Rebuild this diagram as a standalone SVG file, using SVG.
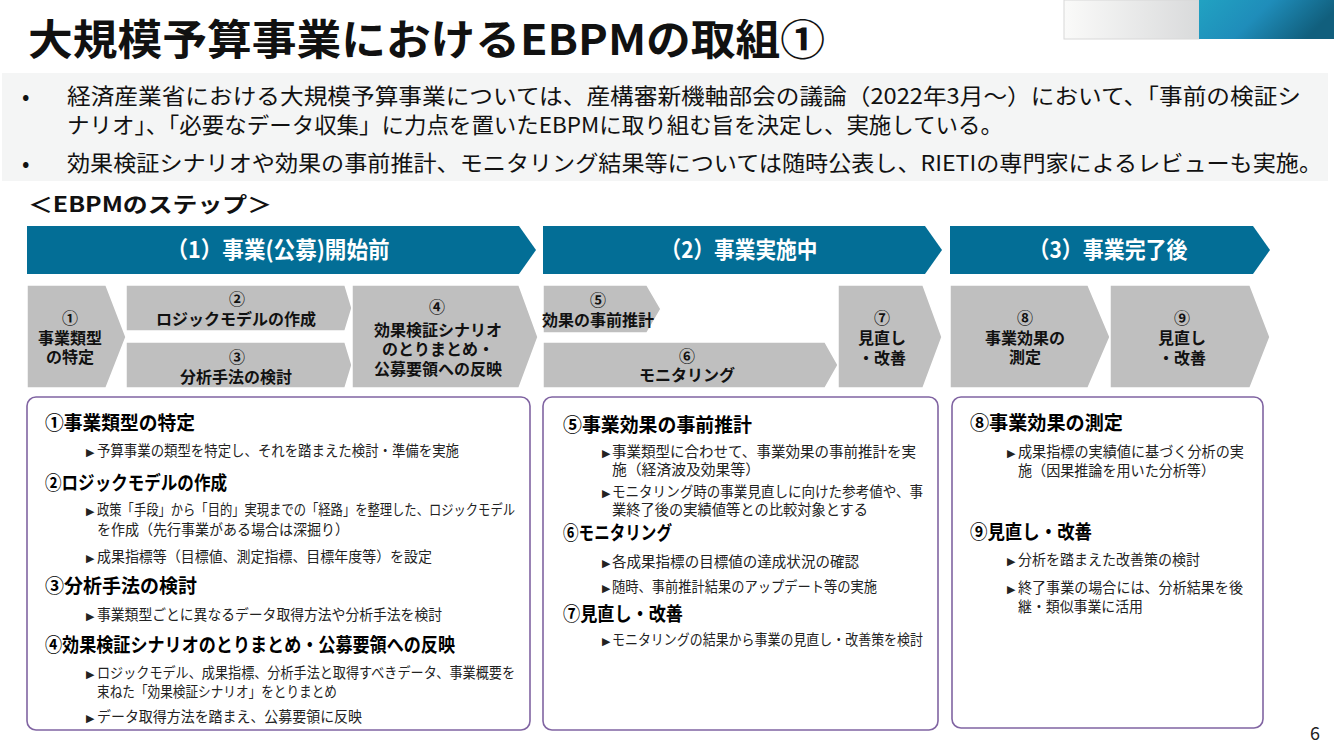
<svg xmlns="http://www.w3.org/2000/svg" width="1334" height="750" viewBox="0 0 1334 750">
<defs>
<linearGradient id="gGray" x1="0" y1="0" x2="1" y2="0">
<stop offset="0" stop-color="#FAFAF9"/><stop offset="1" stop-color="#D9DADB"/>
</linearGradient>
<linearGradient id="gBlue" x1="0" y1="0" x2="1" y2="0.3">
<stop offset="0" stop-color="#21A2C2"/><stop offset="0.5" stop-color="#1F8DBA"/><stop offset="1" stop-color="#115F7D"/>
</linearGradient>
<style>
text{font-family:'Noto Sans CJK JP','Noto Sans',sans-serif;}
.hdr{fill:#036E96;}
.stp{fill:#BFBFBF;stroke:#FFFFFF;stroke-width:1.5;}
.box{fill:#FFFFFF;stroke:#8064A2;stroke-width:1.6;}
.ht{fill:#FFFFFF;font-size:23px;font-weight:700;text-anchor:middle;}
.st{fill:#111111;font-size:16px;font-weight:700;text-anchor:middle;}
.h{fill:#000000;font-size:19px;font-weight:700;}
.b{fill:#222222;font-size:14.5px;}
.tri{fill:#222222;font-size:11px;font-family:'DejaVu Sans',sans-serif;}
.bul{fill:#111111;font-size:22px;}
</style>
</defs>

<g id="topbar">
<rect x="1064" y="0" width="135" height="39" fill="url(#gGray)" stroke="#D8D8D8" stroke-width="1"/>
<rect x="1199" y="0" width="135" height="39" fill="url(#gBlue)"/>
</g>

<g id="title">
<text x="28" y="55" font-size="42" font-weight="700" fill="#111111" textLength="797" lengthAdjust="spacingAndGlyphs">大規模予算事業におけるEBPMの取組①</text>
</g>

<g id="summary">
<rect x="2" y="73" width="1326" height="108" fill="#F4F5F5"/>
<text class="bul" x="22" y="104">•</text>
<text class="bul"><tspan x="67" y="104" textLength="1234" lengthAdjust="spacingAndGlyphs">経済産業省における大規模予算事業については、産構審新機軸部会の議論（2022年3月～）において、「事前の検証シ</tspan><tspan x="67" y="133" textLength="936" lengthAdjust="spacingAndGlyphs">ナリオ」、「必要なデータ収集」に力点を置いたEBPMに取り組む旨を決定し、実施している。</tspan></text>
<text class="bul" x="22" y="171">•</text>
<text class="bul" x="67" y="171" textLength="1255" lengthAdjust="spacingAndGlyphs">効果検証シナリオや効果の事前推計、モニタリング結果等については随時公表し、RIETIの専門家によるレビューも実施。</text>
</g>

<g id="steps-label">
<text x="28" y="212" font-size="21" font-weight="700" fill="#111111" textLength="244" lengthAdjust="spacingAndGlyphs">＜EBPMのステップ＞</text>
</g>

<g id="phase1">
<polygon class="hdr" points="27,226 519,226 536,250 519,274 27,274"/>
<text class="ht" x="278" y="258" textLength="223" lengthAdjust="spacingAndGlyphs">（1）事業(公募)開始前</text>
</g>
<g id="phase2">
<polygon class="hdr" points="543,226 925,226 942,250 925,274 543,274"/>
<text class="ht" x="739" y="258" textLength="157" lengthAdjust="spacingAndGlyphs">（2）事業実施中</text>
</g>
<g id="phase3">
<polygon class="hdr" points="950,226 1253,226 1270,250 1253,274 950,274"/>
<text class="ht" x="1108" y="258" textLength="159" lengthAdjust="spacingAndGlyphs">（3）事業完了後</text>
</g>

<g id="step1">
<polygon class="stp" points="27,285 106,285 126,337 106,388 27,388"/>
<text class="st"><tspan x="70" y="324">①</tspan><tspan x="70" y="344">事業類型</tspan><tspan x="70" y="363">の特定</tspan></text>
</g>
<g id="step2">
<polygon class="stp" points="126,285 345,285 352,308 345,331 126,331"/>
<text class="st"><tspan x="237" y="305">②</tspan><tspan x="236" y="325">ロジックモデルの作成</tspan></text>
</g>
<g id="step3">
<polygon class="stp" points="126,342 345,342 352,365 345,388 126,388"/>
<text class="st"><tspan x="237" y="363">③</tspan><tspan x="236" y="383">分析手法の検討</tspan></text>
</g>
<g id="step4">
<polygon class="stp" points="352,285 519,285 538,337 519,388 352,388"/>
<text class="st"><tspan x="437" y="313">④</tspan><tspan x="438" y="336">効果検証シナリオ</tspan><tspan x="438" y="355">のとりまとめ・</tspan><tspan x="438" y="375">公募要領への反映</tspan></text>
</g>
<g id="step5">
<polygon class="stp" points="543,285 647,285 661,309 647,333 543,333"/>
<text class="st"><tspan x="598" y="306">⑤</tspan><tspan x="598" y="326">効果の事前推計</tspan></text>
</g>
<g id="step6">
<polygon class="stp" points="543,342 825,342 838,365 825,388 543,388"/>
<text class="st"><tspan x="687" y="362">⑥</tspan><tspan x="687" y="381">モニタリング</tspan></text>
</g>
<g id="step7">
<polygon class="stp" points="838,285 923,285 942,337 923,388 838,388"/>
<text class="st"><tspan x="882" y="324">⑦</tspan><tspan x="882" y="344">見直し</tspan><tspan x="882" y="364">・改善</tspan></text>
</g>
<g id="step8">
<polygon class="stp" points="950,285 1088,285 1110,337 1088,388 950,388"/>
<text class="st"><tspan x="1025" y="324">⑧</tspan><tspan x="1025" y="344">事業効果の</tspan><tspan x="1025" y="363">測定</tspan></text>
</g>
<g id="step9">
<polygon class="stp" points="1110,285 1250,285 1270,337 1250,388 1110,388"/>
<text class="st"><tspan x="1182" y="324">⑨</tspan><tspan x="1182" y="344">見直し</tspan><tspan x="1182" y="364">・改善</tspan></text>
</g>

<g id="detail1">
<rect class="box" x="27" y="397" width="503" height="333" rx="9"/>
<text class="h" x="45" y="430" textLength="150" lengthAdjust="spacingAndGlyphs">①事業類型の特定</text>
<text class="tri" x="86" y="456">▶</text>
<text class="b" x="97" y="456" textLength="362" lengthAdjust="spacingAndGlyphs">予算事業の類型を特定し、それを踏まえた検討・準備を実施</text>
<text class="h" x="45" y="490" textLength="182" lengthAdjust="spacingAndGlyphs">②ロジックモデルの作成</text>
<text class="tri" x="86" y="515">▶</text>
<text class="b"><tspan x="97" y="515" textLength="418" lengthAdjust="spacingAndGlyphs">政策「手段」から「目的」実現までの「経路」を整理した、ロジックモデル</tspan><tspan x="97" y="535" textLength="252" lengthAdjust="spacingAndGlyphs">を作成（先行事業がある場合は深掘り）</tspan></text>
<text class="tri" x="86" y="562">▶</text>
<text class="b" x="97" y="562" textLength="335" lengthAdjust="spacingAndGlyphs">成果指標等（目標値、測定指標、目標年度等）を設定</text>
<text class="h" x="45" y="593" textLength="152" lengthAdjust="spacingAndGlyphs">③分析手法の検討</text>
<text class="tri" x="86" y="620">▶</text>
<text class="b" x="97" y="620" textLength="345" lengthAdjust="spacingAndGlyphs">事業類型ごとに異なるデータ取得方法や分析手法を検討</text>
<text class="h" x="45" y="652" textLength="410" lengthAdjust="spacingAndGlyphs">④効果検証シナリオのとりまとめ・公募要領への反映</text>
<text class="tri" x="86" y="678">▶</text>
<text class="b"><tspan x="97" y="678" textLength="418" lengthAdjust="spacingAndGlyphs">ロジックモデル、成果指標、分析手法と取得すべきデータ、事業概要を</tspan><tspan x="97" y="697" textLength="240" lengthAdjust="spacingAndGlyphs">束ねた「効果検証シナリオ」をとりまとめ</tspan></text>
<text class="tri" x="86" y="722">▶</text>
<text class="b" x="97" y="722" textLength="265" lengthAdjust="spacingAndGlyphs">データ取得方法を踏まえ、公募要領に反映</text>
</g>

<g id="detail2">
<rect class="box" x="543" y="397" width="395" height="333" rx="9"/>
<text class="h" x="563" y="432" textLength="189" lengthAdjust="spacingAndGlyphs">⑤事業効果の事前推計</text>
<text class="tri" x="602" y="457">▶</text>
<text class="b"><tspan x="612" y="457" textLength="304" lengthAdjust="spacingAndGlyphs">事業類型に合わせて、事業効果の事前推計を実</tspan><tspan x="612" y="475" textLength="148" lengthAdjust="spacingAndGlyphs">施（経済波及効果等）</tspan></text>
<text class="tri" x="602" y="497">▶</text>
<text class="b"><tspan x="612" y="497" textLength="311" lengthAdjust="spacingAndGlyphs">モニタリング時の事業見直しに向けた参考値や、事</tspan><tspan x="612" y="515" textLength="256" lengthAdjust="spacingAndGlyphs">業終了後の実績値等との比較対象とする</tspan></text>
<text class="h" x="563" y="540" textLength="109" lengthAdjust="spacingAndGlyphs">⑥モニタリング</text>
<text class="tri" x="602" y="567">▶</text>
<text class="b" x="612" y="567" textLength="247" lengthAdjust="spacingAndGlyphs">各成果指標の目標値の達成状況の確認</text>
<text class="tri" x="602" y="592">▶</text>
<text class="b" x="612" y="592" textLength="265" lengthAdjust="spacingAndGlyphs">随時、事前推計結果のアップデート等の実施</text>
<text class="h" x="563" y="621" textLength="120" lengthAdjust="spacingAndGlyphs">⑦見直し・改善</text>
<text class="tri" x="602" y="645">▶</text>
<text class="b" x="612" y="645" textLength="311" lengthAdjust="spacingAndGlyphs">モニタリングの結果から事業の見直し・改善策を検討</text>
</g>

<g id="detail3">
<rect class="box" x="952" y="397" width="311" height="331" rx="9"/>
<text class="h" x="970" y="430" textLength="153" lengthAdjust="spacingAndGlyphs">⑧事業効果の測定</text>
<text class="tri" x="1007" y="457">▶</text>
<text class="b"><tspan x="1018" y="457" textLength="226" lengthAdjust="spacingAndGlyphs">成果指標の実績値に基づく分析の実</tspan><tspan x="1018" y="476" textLength="197" lengthAdjust="spacingAndGlyphs">施（因果推論を用いた分析等）</tspan></text>
<text class="h" x="970" y="539" textLength="122" lengthAdjust="spacingAndGlyphs">⑨見直し・改善</text>
<text class="tri" x="1007" y="565">▶</text>
<text class="b" x="1018" y="565" textLength="182" lengthAdjust="spacingAndGlyphs">分析を踏まえた改善策の検討</text>
<text class="tri" x="1007" y="593">▶</text>
<text class="b"><tspan x="1018" y="593" textLength="225" lengthAdjust="spacingAndGlyphs">終了事業の場合には、分析結果を後</tspan><tspan x="1018" y="612" textLength="125" lengthAdjust="spacingAndGlyphs">継・類似事業に活用</tspan></text>
</g>

<g id="page">
<text x="1315" y="740" font-size="18" fill="#222222" text-anchor="middle">6</text>
</g>
</svg>
